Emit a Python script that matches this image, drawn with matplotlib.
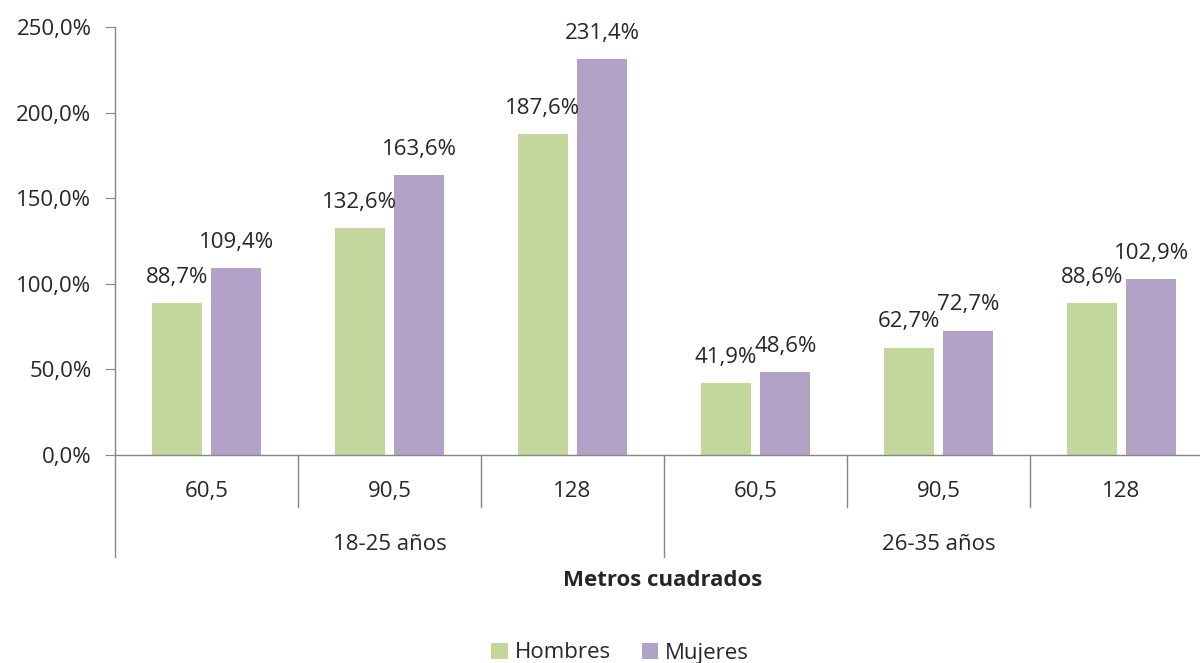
import numpy as np
import matplotlib.pyplot as plt

plt.rcParams['font.family'] = ['Open Sans', 'DejaVu Sans']

# datos
metros = ["60,5", "90,5", "128", "60,5", "90,5", "128"]
grupos = ["18-25 años", "26-35 años"]
hombres = [88.7, 132.6, 187.6, 41.9, 62.7, 88.6]
mujeres = [109.4, 163.6, 231.4, 48.6, 72.7, 102.9]

verde = "#C3D69B"
morado = "#B3A2C7"
gris = "#868686"
texto = "#262626"
fs = 16

fig = plt.figure(figsize=(12, 6.63), dpi=100)
ax = fig.add_axes([115 / 1200, 208 / 663, 1098 / 1200, 428 / 663])

x = np.arange(len(metros))
w = 0.273
b1 = ax.bar(x - 0.163, hombres, w, color=verde, label="Hombres")
b2 = ax.bar(x + 0.163, mujeres, w, color=morado, label="Mujeres")

def fmt(v):
    return f"{v:.1f}%".replace(".", ",")

for bars, vals in ((b1, hombres), (b2, mujeres)):
    for r, v in zip(bars, vals):
        ax.annotate(fmt(v), (r.get_x() + r.get_width() / 2, v), xytext=(0, 18.5),
                    textcoords="offset points", ha="center", va="center",
                    fontsize=fs, color=texto)

ax.set_xlim(-0.5, 5.5)
ax.set_ylim(0, 250)
ax.set_yticks(np.arange(0, 251, 50))
ax.set_yticklabels([fmt(v) for v in np.arange(0, 251, 50)], fontsize=fs, color=texto)
ax.tick_params(axis="y", length=7, color=gris, pad=10)

ax.set_xticks(x)
ax.set_xticklabels(metros, fontsize=fs, color=texto)
ax.tick_params(axis="x", length=0, pad=19)

for s in ("top", "right"):
    ax.spines[s].set_visible(False)
for s in ("left", "bottom"):
    ax.spines[s].set_color(gris)
    ax.spines[s].set_linewidth(1)

# separadores de categorias
tr = ax.get_xaxis_transform()
for xs in [0.5, 1.5, 3.5, 4.5]:
    ax.plot([xs, xs], [0, -0.1215], transform=tr, color=gris, lw=1, clip_on=False)
for xs in [-0.5, 2.5, 5.5]:
    ax.plot([xs, xs], [0, -0.238], transform=tr, color=gris, lw=1, clip_on=False)

# etiquetas de grupo
for i, g in enumerate(grupos):
    ax.text(1 + 3 * i, -0.21, g, transform=tr, ha="center", va="center",
            fontsize=fs, color=texto)

fig.text(663 / 1200, 1 - 580 / 663, "Metros cuadrados", ha="center", va="center",
         fontsize=fs, fontweight="bold", color=texto)

fig.legend(handles=[b1, b2], loc="center", bbox_to_anchor=(620 / 1200, 1 - 653 / 663),
           ncol=2, frameon=False, fontsize=fs, handlelength=0.75, handleheight=0.75,
           columnspacing=1.4, handletextpad=0.3, labelcolor=texto)

fig.savefig("out.png", dpi=100, facecolor="white")
